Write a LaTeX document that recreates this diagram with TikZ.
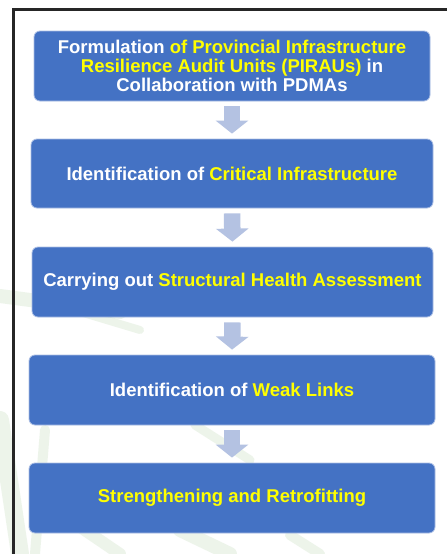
\documentclass[tikz,border=0pt]{standalone}
\usepackage{fontspec}
\setmainfont{Liberation Sans}
\usetikzlibrary{arrows.meta}

\definecolor{boxblue}{RGB}{68,114,196}
\definecolor{boxedge}{RGB}{170,190,228}
\definecolor{flowarrow}{RGB}{180,194,226}
\definecolor{hilite}{RGB}{255,255,0}
\definecolor{leaf}{RGB}{120,170,100}

\tikzset{
  stepbox/.style={fill=boxblue, draw=boxedge, line width=0.8pt,
    rounded corners=6pt, minimum height=70pt, inner sep=0pt,
    text=white, align=center,
    font=\bfseries\fontsize{18.5}{19}\selectfont},
  flow/.style={draw=flowarrow, line width=16.5pt,
    -{Triangle[width=32pt,length=13pt]},
    shorten <=5pt, shorten >=5pt},
  streak/.style={leaf, opacity=0.13, line cap=round}
}
\newcommand{\hl}[1]{{\color{hilite}#1}}

\begin{document}
\begin{tikzpicture}[x=1pt,y=-1pt]
  \useasboundingbox (0,0) rectangle (447,554);
  \fill[white] (0,0) rectangle (447,554);

  % faint leaf watermark behind the flow
  \draw[streak, line width=14pt] (0,296) -- (120,312);
  \draw[streak, line width=8pt] (40,300) -- (140,330);
  \draw[streak, line width=18pt] (0,420) -- (20,554);
  \draw[streak, line width=10pt] (45,430) -- (35,554);
  \draw[streak, line width=12pt] (70,520) -- (120,554);
  \draw[streak, line width=14pt] (180,530) -- (230,554);
  \draw[streak, line width=10pt] (290,535) -- (320,554);
  \draw[streak, line width=9pt] (195,425) -- (250,460);

  % outer frame
  \draw[line width=3pt, black!85] (13.5,554) -- (13.5,9.5) -- (447,9.5);

  % process steps
  \node[stepbox, minimum width=396pt] (s1) at (232,66)
    {Formulation \hl{of Provincial Infrastructure}\\
     \hl{Resilience Audit Units (PIRAUs)} in\\
     Collaboration with PDMAs};
  \node[stepbox, minimum width=402pt, minimum height=69pt] (s2) at (232,173.5)
    {Identification of \hl{Critical Infrastructure}};
  \node[stepbox, minimum width=401pt] (s3) at (232.5,282)
    {Carrying out \hl{Structural Health Assessment}};
  \node[stepbox, minimum width=406pt] (s4) at (232,390)
    {Identification of \hl{Weak Links}};
  \node[stepbox, minimum width=406pt] (s5) at (232,498)
    {\hl{Strengthening and Retrofitting}};

  % flow arrows
  \draw[flow] (s1.south) -- (s2.north);
  \draw[flow] (s2.south) -- (s3.north);
  \draw[flow] (s3.south) -- (s4.north);
  \draw[flow] (s4.south) -- (s5.north);
\end{tikzpicture}
\end{document}
